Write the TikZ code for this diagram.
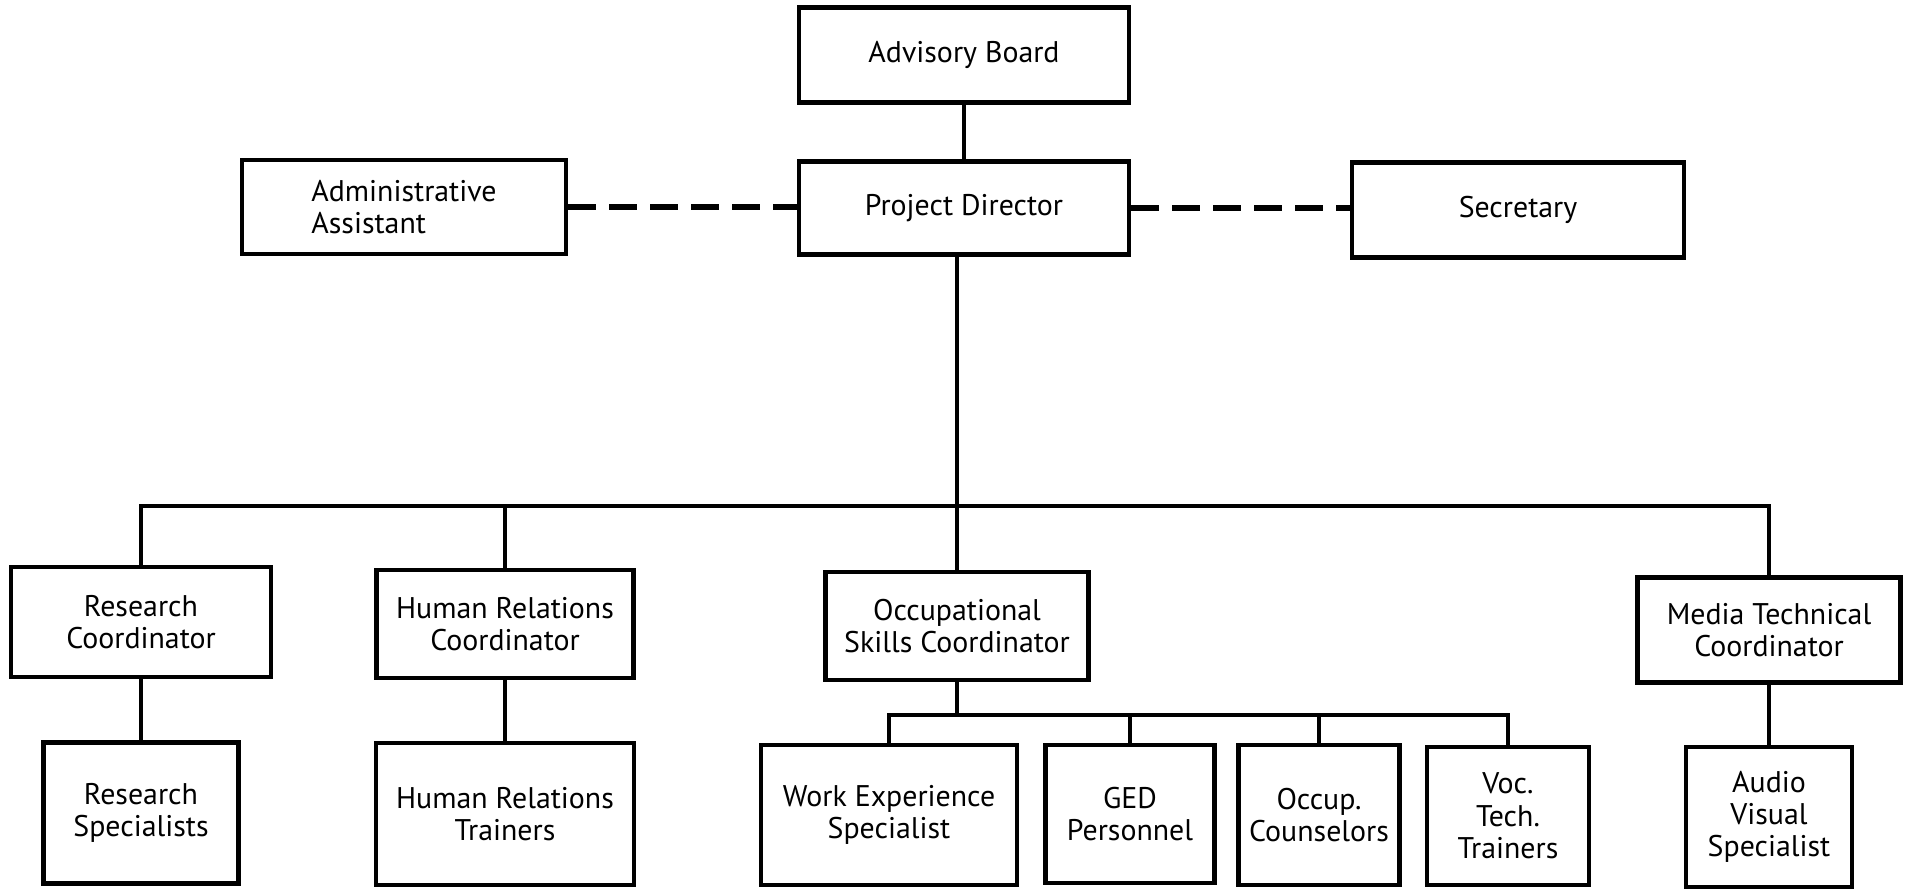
\documentclass[tikz,border=0pt]{standalone}
\usepackage{fontspec}
\setmainfont{PT Sans}
\usetikzlibrary{calc}

\begin{document}
\begin{tikzpicture}[x=0.1mm,y=-0.1mm,
    box/.style={draw,line width=1.3pt,align=center,inner sep=0pt,
      font=\fontsize{8.5}{9.2}\selectfont},
    link/.style={line width=1.1pt},
    aide/.style={line width=1.6pt,dash pattern=on 2.8mm off 1.3mm}]
    \useasboundingbox (0,0) rectangle (1910,888);

    % top
    \node [box,minimum width=33mm,minimum height=9.5mm] (adv) at (964,55) {Advisory Board};
    \node [box,minimum width=33mm,minimum height=9.3mm] (dir) at (964,208) {Project Director};
    \node [box,align=left,minimum width=32.4mm,minimum height=9.4mm] (asst) at (404,207) {Administrative\\Assistant};
    \node [box,minimum width=33.2mm,minimum height=9.5mm] (sec) at (1518,210) {Secretary};

    % coordinators
    \node [box,minimum width=26mm,minimum height=11mm] (rc) at (141,622) {Research\\Coordinator};
    \node [box,minimum width=25.7mm,minimum height=10.8mm] (hrc) at (505,624) {Human Relations\\Coordinator};
    \node [box,minimum width=26.3mm,minimum height=10.8mm] (osc) at (957,626) {Occupational\\Skills Coordinator};
    \node [box,minimum width=26.3mm,minimum height=10.5mm] (mtc) at (1769,630) {Media Technical\\Coordinator};

    % staff
    \node [box,minimum width=19.5mm,minimum height=14.1mm] (rs) at (141,813) {Research\\Specialists};
    \node [box,minimum width=25.8mm,minimum height=14.2mm] (hrt) at (505,814) {Human Relations\\Trainers};
    \node [box,minimum width=25.6mm,minimum height=14mm] (wes) at (889,815) {Work Experience\\Specialist};
    \node [box,minimum width=16.9mm,minimum height=13.8mm] (ged) at (1130,814) {GED\\Personnel};
    \node [box,minimum width=16.1mm,minimum height=14mm] (occ) at (1319,815) {Occup.\\Counselors};
    \node [box,minimum width=16.2mm,minimum height=13.8mm] (voc) at (1508,816) {Voc.\\Tech.\\Trainers};
    \node [box,minimum width=16.6mm,minimum height=14mm] (avs) at (1769,817) {Audio\\Visual\\Specialist};

    \coordinate (hub) at ($(osc.north)+(0,-64)$);
    \coordinate (sub) at ($(osc.south)+(0,33)$);

    \draw [link] (adv) -- (dir);
    \draw [aide] (asst.east) -- (asst.east -| dir.west); % dashed
    \draw [aide] (dir.east) -- (dir.east -| sec.west);

    \draw [link] (osc.north |- dir.south) -- (osc.north);
    \draw [link] (rc.north) |- (hub) -| (mtc.north);
    \draw [link] (hrc.north) -- (hrc.north |- hub);

    \draw [link] (rc) -- (rs);
    \draw [link] (hrc) -- (hrt);
    \draw [link] (mtc) -- (avs);

    \draw [link] (osc.south) -- (sub);
    \draw [link] (wes.north) |- (sub) -| (voc.north);
    \draw [link] (ged.north) -- (ged.north |- sub);
    \draw [link] (occ.north) -- (occ.north |- sub);
\end{tikzpicture}
\end{document}
